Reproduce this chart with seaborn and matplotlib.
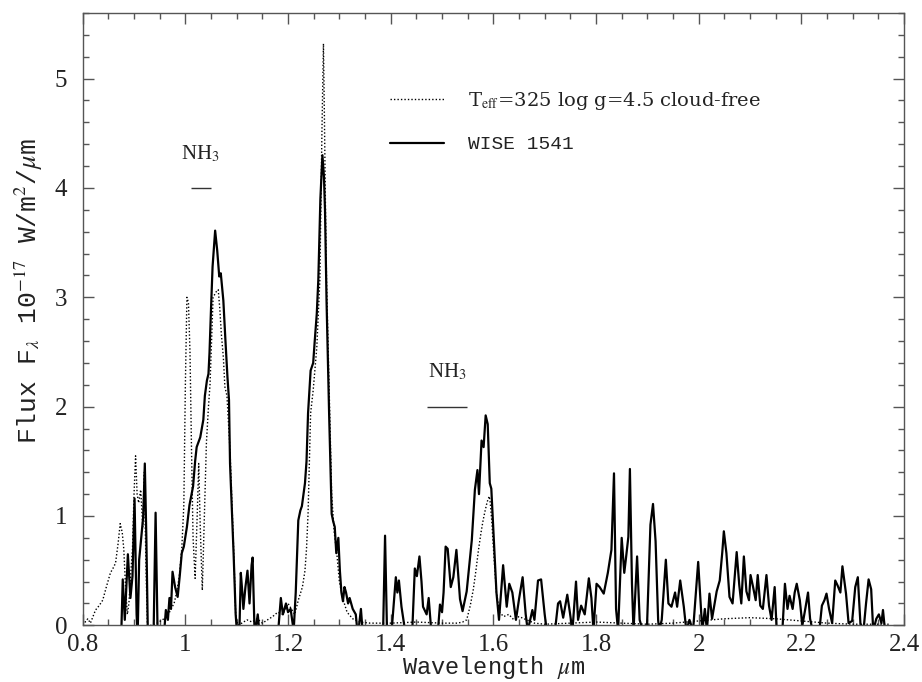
import matplotlib as mpl

mpl.use('Agg')
import pandas as pd
import matplotlib.pyplot as plt
import seaborn as sns
from matplotlib.ticker import MultipleLocator, FuncFormatter

# observed spectrum of WISE 1541 (micron, 1e-17 W/m2/um)
wise_wave = [0.875, 0.878, 0.882, 0.888, 0.893, 0.897, 0.901, 0.905, 0.907, 0.910,
             0.913, 0.918, 0.921, 0.924, 0.927, 0.938, 0.942, 0.946, 0.958, 0.962,
             0.966, 0.969, 0.972, 0.975, 0.980, 0.985, 0.989, 0.993, 0.997, 1.003,
             1.008, 1.015, 1.019, 1.022, 1.026, 1.029, 1.035, 1.038, 1.042, 1.045,
             1.047, 1.050, 1.053, 1.058, 1.062, 1.066, 1.069, 1.074, 1.078, 1.082,
             1.085, 1.087, 1.091, 1.094, 1.098, 1.101, 1.105, 1.108, 1.111, 1.113,
             1.117, 1.121, 1.125, 1.129, 1.131, 1.135, 1.141, 1.145, 1.180, 1.186,
             1.190, 1.196, 1.200, 1.205, 1.211, 1.215, 1.220, 1.224, 1.227, 1.233,
             1.236, 1.239, 1.244, 1.249, 1.252, 1.256, 1.259, 1.263, 1.267, 1.270,
             1.272, 1.275, 1.280, 1.285, 1.288, 1.291, 1.294, 1.298, 1.301, 1.304,
             1.307, 1.310, 1.313, 1.317, 1.320, 1.326, 1.332, 1.336, 1.342, 1.346,
             1.385, 1.389, 1.393, 1.401, 1.405, 1.410, 1.413, 1.416, 1.421, 1.428,
             1.442, 1.447, 1.451, 1.456, 1.460, 1.463, 1.470, 1.474, 1.479, 1.492,
             1.496, 1.500, 1.503, 1.507, 1.511, 1.517, 1.522, 1.528, 1.535, 1.540,
             1.548, 1.553, 1.558, 1.564, 1.569, 1.572, 1.577, 1.581, 1.585, 1.589,
             1.593, 1.596, 1.601, 1.606, 1.611, 1.619, 1.626, 1.631, 1.637, 1.644,
             1.650, 1.657, 1.663, 1.667, 1.676, 1.680, 1.687, 1.693, 1.700, 1.704,
             1.720, 1.726, 1.730, 1.736, 1.744, 1.749, 1.754, 1.761, 1.765, 1.771,
             1.778, 1.786, 1.791, 1.795, 1.801, 1.807, 1.815, 1.823, 1.830, 1.835,
             1.839, 1.843, 1.850, 1.855, 1.858, 1.863, 1.866, 1.870, 1.873, 1.880,
             1.885, 1.891, 1.899, 1.906, 1.911, 1.916, 1.921, 1.923, 1.928, 1.936,
             1.941, 1.947, 1.954, 1.958, 1.964, 1.971, 1.976, 1.982, 1.989, 1.999,
             2.003, 2.007, 2.012, 2.016, 2.021, 2.026, 2.035, 2.041, 2.046, 2.049,
             2.054, 2.060, 2.066, 2.070, 2.074, 2.079, 2.083, 2.088, 2.093, 2.098,
             2.101, 2.106, 2.111, 2.115, 2.120, 2.125, 2.132, 2.137, 2.142, 2.148,
             2.152, 2.163, 2.168, 2.173, 2.177, 2.183, 2.187, 2.191, 2.197, 2.202,
             2.208, 2.213, 2.217, 2.222, 2.235, 2.240, 2.245, 2.249, 2.254, 2.260,
             2.266, 2.271, 2.276, 2.280, 2.287, 2.292, 2.299, 2.305, 2.310, 2.315,
             2.321, 2.326, 2.331, 2.336, 2.340, 2.346, 2.351, 2.356, 2.359, 2.363]
wise_flux = [-0.10, 0.42, 0.05, 0.65, 0.25, 0.45, 1.16, 0.10, -0.10, 0.60,
             0.75, 1.00, 1.48, 0.80, -0.10, -0.10, 1.03, -0.10, -0.10, 0.14,
             0.05, 0.25, 0.15, 0.49, 0.35, 0.26, 0.45, 0.66, 0.72, 0.90,
             1.10, 1.27, 1.50, 1.63, 1.68, 1.72, 1.88, 2.10, 2.24, 2.30,
             2.49, 2.90, 3.28, 3.61, 3.43, 3.19, 3.22, 2.97, 2.61, 2.27,
             2.06, 1.48, 1.00, 0.65, 0.10, -0.10, -0.10, 0.48, 0.30, 0.15,
             0.35, 0.50, 0.20, 0.55, 0.62, -0.10, 0.10, -0.10, -0.10, 0.25,
             0.10, 0.20, 0.12, 0.15, -0.05, 0.30, 0.96, 1.05, 1.09, 1.30,
             1.50, 1.94, 2.33, 2.40, 2.60, 2.85, 3.16, 3.90, 4.30, 4.10,
             3.80, 2.97, 1.94, 1.02, 0.95, 0.90, 0.66, 0.80, 0.50, 0.30,
             0.22, 0.35, 0.30, 0.20, 0.25, 0.15, 0.10, -0.10, 0.15, -0.10,
             -0.10, 0.82, -0.10, -0.10, 0.14, 0.44, 0.30, 0.41, 0.17, -0.05,
             -0.05, 0.52, 0.45, 0.63, 0.40, 0.17, 0.10, 0.25, -0.05, -0.05,
             0.19, 0.12, 0.30, 0.72, 0.70, 0.35, 0.44, 0.69, 0.24, 0.13,
             0.31, 0.55, 0.78, 1.24, 1.42, 1.20, 1.69, 1.63, 1.92, 1.84,
             1.30, 1.25, 0.78, 0.30, 0.05, 0.55, 0.17, 0.38, 0.30, 0.05,
             0.24, 0.44, 0.10, -0.05, 0.14, 0.05, 0.41, 0.42, 0.10, -0.05,
             -0.05, 0.20, 0.22, 0.07, 0.28, 0.12, -0.05, 0.40, 0.05, 0.18,
             0.10, 0.43, 0.25, -0.05, 0.38, 0.35, 0.29, 0.48, 0.69, 1.39,
             0.15, -0.05, 0.80, 0.48, 0.60, 0.81, 1.43, 0.38, -0.05, 0.63,
             0.05, -0.05, -0.05, 0.92, 1.11, 0.77, 0.05, -0.05, 0.05, 0.60,
             0.20, 0.17, 0.30, 0.17, 0.41, 0.17, -0.05, 0.05, -0.05, 0.58,
             0.26, -0.05, 0.15, -0.05, 0.29, 0.06, 0.31, 0.41, 0.67, 0.86,
             0.66, 0.26, 0.20, 0.44, 0.67, 0.37, 0.20, 0.63, 0.31, 0.23,
             0.46, 0.35, 0.23, 0.46, 0.18, 0.15, 0.46, 0.18, 0.05, 0.35,
             -0.05, -0.05, 0.38, 0.15, 0.27, 0.15, 0.30, 0.38, 0.23, 0.00,
             0.16, 0.30, 0.06, -0.05, -0.05, 0.18, 0.23, 0.29, 0.15, 0.02,
             0.41, 0.36, 0.30, 0.54, 0.29, 0.02, 0.04, 0.35, 0.44, 0.02,
             -0.05, 0.20, 0.42, 0.33, -0.05, 0.06, 0.10, 0.02, 0.14, -0.05]

# model: Teff=325, log g=4.5, cloud-free
model_wave = [0.800, 0.805, 0.810, 0.815, 0.820, 0.825, 0.832, 0.839, 0.846, 0.854,
              0.860, 0.864, 0.869, 0.873, 0.877, 0.880, 0.884, 0.887, 0.890, 0.894,
              0.897, 0.900, 0.903, 0.906, 0.909, 0.913, 0.917, 0.920, 0.923, 0.926,
              0.935, 0.945, 0.955, 0.965, 0.972, 0.978, 0.983, 0.988, 0.993, 0.997,
              1.000, 1.003, 1.006, 1.009, 1.012, 1.015, 1.019, 1.023, 1.026, 1.029,
              1.033, 1.037, 1.041, 1.045, 1.048, 1.054, 1.060, 1.064, 1.067, 1.070,
              1.074, 1.077, 1.081, 1.087, 1.091, 1.094, 1.098, 1.102, 1.110, 1.120,
              1.130, 1.140, 1.150, 1.160, 1.170, 1.180, 1.190, 1.200, 1.209, 1.213,
              1.220, 1.228, 1.233, 1.236, 1.239, 1.244, 1.249, 1.256, 1.262, 1.266,
              1.269, 1.271, 1.273, 1.275, 1.280, 1.285, 1.290, 1.295, 1.300, 1.307,
              1.315, 1.326, 1.340, 1.360, 1.400, 1.450, 1.500, 1.530, 1.540, 1.548,
              1.555, 1.561, 1.566, 1.571, 1.576, 1.580, 1.584, 1.588, 1.592, 1.594,
              1.597, 1.599, 1.603, 1.606, 1.612, 1.620, 1.630, 1.640, 1.650, 1.665,
              1.680, 1.700, 1.750, 1.800, 1.850, 1.900, 1.950, 2.000, 2.050, 2.100,
              2.150, 2.200, 2.250, 2.300, 2.370]
model_flux = [0.06, 0.03, 0.06, 0.02, 0.08, 0.14, 0.18, 0.23, 0.35, 0.48,
              0.53, 0.57, 0.75, 0.93, 0.85, 0.70, 0.30, 0.10, 0.20, 0.50,
              0.70, 1.20, 1.55, 1.20, 1.12, 1.24, 0.90, 1.40, 0.60, 0.00,
              0.00, 0.02, 0.05, 0.08, 0.15, 0.20, 0.30, 0.44, 0.70, 1.10,
              2.20, 3.00, 2.95, 2.50, 1.60, 0.80, 0.43, 1.00, 1.48, 0.90,
              0.32, 1.00, 1.67, 2.00, 2.20, 3.00, 3.05, 3.07, 2.90, 2.67,
              2.45, 2.18, 2.10, 1.60, 1.10, 0.70, 0.10, 0.00, 0.02, 0.05,
              0.03, 0.06, 0.02, 0.05, 0.08, 0.12, 0.10, 0.20, 0.13, 0.10,
              0.23, 0.35, 0.50, 0.70, 1.02, 1.94, 2.15, 2.54, 3.16, 4.50,
              5.32, 4.60, 3.80, 3.16, 2.20, 1.20, 0.85, 0.66, 0.40, 0.24,
              0.12, 0.06, 0.03, 0.02, 0.02, 0.03, 0.02, 0.02, 0.03, 0.05,
              0.18, 0.33, 0.50, 0.69, 0.85, 0.96, 1.05, 1.13, 1.18, 1.12,
              0.95, 0.79, 0.50, 0.30, 0.12, 0.08, 0.10, 0.05, 0.08, 0.05,
              0.02, 0.01, 0.02, 0.03, 0.02, 0.01, 0.02, 0.04, 0.06, 0.07,
              0.06, 0.04, 0.02, 0.01, 0.01]

model_label = r'T$_{\rm eff}$=325 log g=4.5 cloud-free'
wise_label = 'WISE 1541'

# NH3 band markers: (label x, label y, bar start, bar end, bar y)
nh3_marks = [(1.029, 4.22, 1.01, 1.049, 4.0),
             (1.510, 2.22, 1.47, 1.549, 2.0)]

mono = ['Liberation Mono', 'DejaVu Sans Mono']

sns.set_theme(style='ticks')
plt.rcParams['font.family'] = ['Liberation Serif', 'DejaVu Serif']
plt.rcParams['mathtext.fontset'] = 'stix'

fig = plt.figure(figsize=(9.22, 6.82), dpi=100)
ax = fig.add_axes([0.0897, 0.0831, 0.8908, 0.8978])

sns.lineplot(x=model_wave, y=model_flux, ax=ax, color='black', lw=1.0,
             linestyle=(0, (1, 1.5)), sort=False, estimator=None, label=model_label)
sns.lineplot(x=wise_wave, y=wise_flux, ax=ax, color='black', lw=1.6,
             sort=False, estimator=None, label=wise_label)

for tx, ty, x0, x1, by in nh3_marks:
    ax.text(tx, ty, r'NH$_3$', ha='center', va='bottom', fontsize=15, color='#222222')
    ax.hlines(by, x0, x1, color='#333333', lw=1.0)

ax.set_xlim(0.8, 2.4)
ax.set_ylim(0, 5.6)
ax.xaxis.set_major_locator(MultipleLocator(0.2))
ax.xaxis.set_minor_locator(MultipleLocator(0.05))
ax.yaxis.set_major_locator(MultipleLocator(1))
ax.yaxis.set_minor_locator(MultipleLocator(0.2))
ax.xaxis.set_major_formatter(FuncFormatter(lambda v, p: '%g' % round(v, 2)))
ax.yaxis.set_major_formatter(FuncFormatter(lambda v, p: '%g' % round(v, 2)))
ax.tick_params(which='both', direction='in', top=True, right=True, color='#555555', width=1.0)
ax.tick_params(which='major', length=8)
ax.tick_params(which='minor', length=4)
ax.tick_params(axis='x', which='major', labelsize=18, pad=6, labelcolor='#222222')
ax.tick_params(axis='y', which='major', labelsize=18, pad=11, labelcolor='#222222')
for s in ax.spines.values():
    s.set_color('#555555')
    s.set_linewidth(1.0)

ax.set_xlabel(r'Wavelength $\mu$m', fontsize=17, family=mono, color='#222222')
ax.set_ylabel(r'Flux F$_\lambda$ 10$^{-17}$ W/m$^2$/$\mu$m', fontsize=19,
              family=mono, color='#222222')
ax.xaxis.set_label_coords(0.5, -0.047)
ax.yaxis.set_label_coords(-0.046, 0.545)

leg = ax.legend(loc='upper left', bbox_to_anchor=(0.374, 0.875), frameon=False,
                fontsize=14, handlelength=2.8, handletextpad=1.2, labelspacing=1.25,
                borderpad=0, borderaxespad=0)
leg.get_texts()[0].set_family(['DejaVu Serif'])
leg.get_texts()[1].set_family(mono)
for t in leg.get_texts():
    t.set_color('#222222')

fig.savefig('out.png', dpi=100)
